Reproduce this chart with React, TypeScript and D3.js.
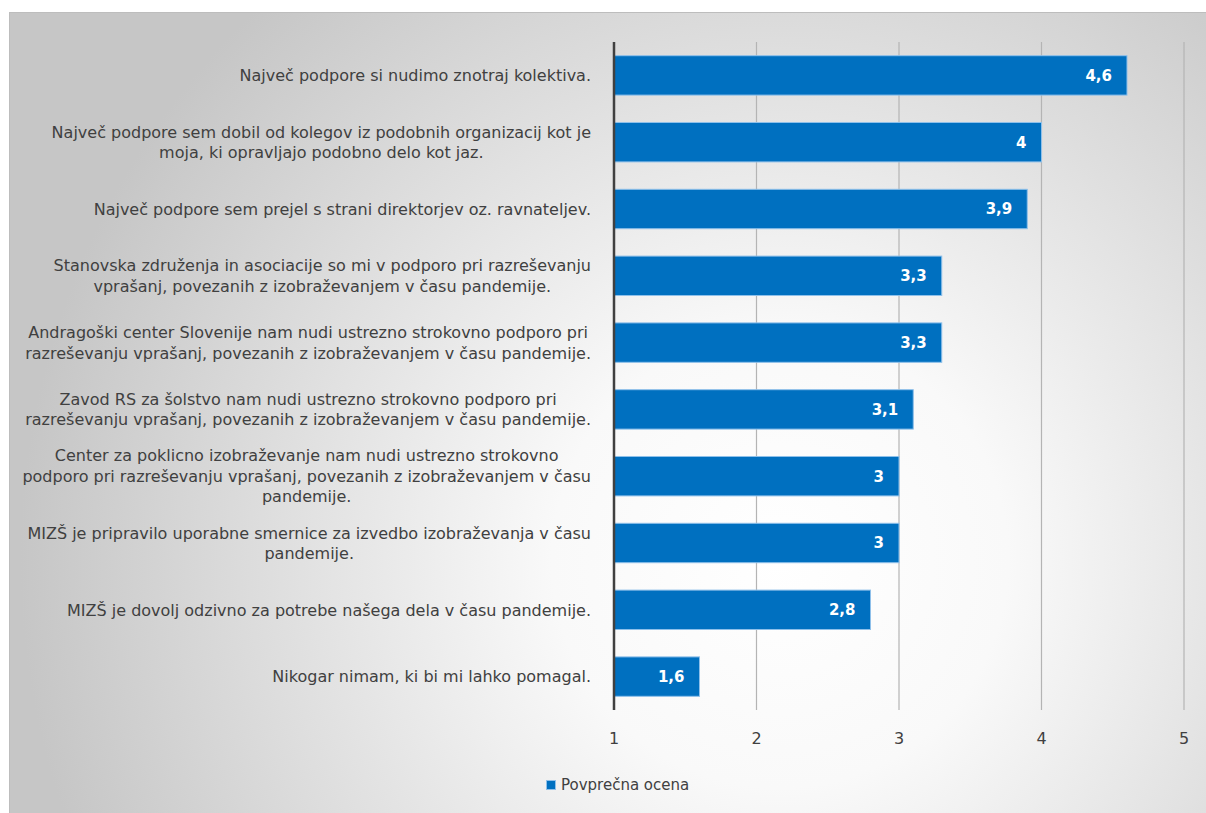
import React, { useEffect, useRef } from "react";
import * as d3 from "d3";

const categories: string[][] = [
  ["Največ podpore si nudimo znotraj kolektiva."],
  ["Največ podpore sem dobil od kolegov iz podobnih organizacij kot je", "moja, ki opravljajo podobno delo kot jaz."],
  ["Največ podpore sem prejel s strani direktorjev oz. ravnateljev."],
  ["Stanovska združenja in asociacije so mi v podporo pri razreševanju", "vprašanj, povezanih z izobraževanjem v času pandemije."],
  ["Andragoški center Slovenije nam nudi ustrezno strokovno podporo pri", "razreševanju vprašanj, povezanih z izobraževanjem v času pandemije."],
  ["Zavod RS za šolstvo nam nudi ustrezno strokovno podporo pri", "razreševanju vprašanj, povezanih z izobraževanjem v času pandemije."],
  ["Center za poklicno izobraževanje nam nudi ustrezno strokovno", "podporo pri razreševanju vprašanj, povezanih z izobraževanjem v času", "pandemije."],
  ["MIZŠ je pripravilo uporabne smernice za izvedbo izobraževanja v času", "pandemije."],
  ["MIZŠ je dovolj odzivno za potrebe našega dela v času pandemije."],
  ["Nikogar nimam, ki bi mi lahko pomagal."],
];
const values: number[] = [4.6, 4, 3.9, 3.3, 3.3, 3.1, 3, 3, 2.8, 1.6];
const xTicks: number[] = [1, 2, 3, 4, 5];
const seriesName = "Povprečna ocena";

const W = 1206;
const H = 813;
const FONT = "'DejaVu Sans', sans-serif";

export default function App() {
  const ref = useRef<SVGSVGElement>(null);

  useEffect(() => {
    const svg = d3.select(ref.current);
    svg.selectAll("*").remove();

    const defs = svg.append("defs");
    const grad = defs
      .append("radialGradient")
      .attr("id", "bg")
      .attr("gradientUnits", "userSpaceOnUse")
      .attr("cx", 780)
      .attr("cy", 560)
      .attr("r", 760);
    grad.append("stop").attr("offset", 0).attr("stop-color", "#ffffff");
    grad.append("stop").attr("offset", 0.3).attr("stop-color", "#f9f9f9");
    grad.append("stop").attr("offset", 1).attr("stop-color", "#c6c6c6");

    svg.append("rect").attr("x", 0).attr("y", 0).attr("width", W).attr("height", H).attr("fill", "#ffffff");
    svg
      .append("rect")
      .attr("x", 9.5)
      .attr("y", 12.5)
      .attr("width", W)
      .attr("height", H)
      .attr("fill", "url(#bg)")
      .attr("stroke", "#bdbdbd")
      .attr("stroke-width", 1);

    const x = d3.scaleLinear().domain([1, 5]).range([614, 1184]);
    const idx = categories.map((_, i) => String(i));
    const y = d3.scaleBand<string>().domain(idx).range([42, 710]).paddingInner(0.41).paddingOuter(0.205);

    // gridlines
    svg
      .append("g")
      .selectAll("line")
      .data(xTicks.slice(1))
      .join("line")
      .attr("x1", (d) => x(d))
      .attr("x2", (d) => x(d))
      .attr("y1", 42)
      .attr("y2", 710)
      .attr("stroke", "#b4b4b4")
      .attr("stroke-width", 1.2);

    // bars
    svg
      .append("g")
      .selectAll("rect")
      .data(values)
      .join("rect")
      .attr("x", x(1))
      .attr("y", (_, i) => y(String(i))!)
      .attr("width", (d) => x(d) - x(1))
      .attr("height", y.bandwidth())
      .attr("fill", "#0070c0")
      .attr("stroke", "#8fc0ea")
      .attr("stroke-width", 1);

    // value labels
    svg
      .append("g")
      .selectAll("text")
      .data(values)
      .join("text")
      .attr("x", (d) => x(d) - 15)
      .attr("y", (_, i) => y(String(i))! + y.bandwidth() / 2)
      .attr("dy", "0.36em")
      .attr("text-anchor", "end")
      .attr("fill", "#ffffff")
      .attr("font-family", FONT)
      .attr("font-weight", "bold")
      .attr("font-size", 15)
      .text((d) => String(d).replace(".", ","));

    // axis line
    svg
      .append("line")
      .attr("x1", x(1))
      .attr("x2", x(1))
      .attr("y1", 42)
      .attr("y2", 710)
      .attr("stroke", "#404040")
      .attr("stroke-width", 2.5);

    // x tick labels
    svg
      .append("g")
      .selectAll("text")
      .data(xTicks)
      .join("text")
      .attr("x", (d) => x(d))
      .attr("y", 738)
      .attr("dy", "0.36em")
      .attr("text-anchor", "middle")
      .attr("fill", "#404040")
      .attr("font-family", FONT)
      .attr("font-size", 16)
      .text((d) => String(d));

    // category labels
    const lineH = 20.5;
    const rightEdge = 591;
    const catG = svg.append("g");
    categories.forEach((lines, i) => {
      const cy = y(String(i))! + y.bandwidth() / 2;
      const g = catG.append("g");
      const texts = lines.map((ln, j) =>
        g
          .append("text")
          .attr("y", cy + (j - (lines.length - 1) / 2) * lineH)
          .attr("dy", "0.36em")
          .attr("text-anchor", "middle")
          .attr("fill", "#404040")
          .attr("font-family", FONT)
          .attr("font-size", 16)
          .text(ln)
      );
      const maxW = d3.max(texts, (t) => (t.node() as SVGTextElement).getComputedTextLength()) || 0;
      texts.forEach((t) => t.attr("x", rightEdge - maxW / 2));
    });

    // legend
    svg
      .append("rect")
      .attr("x", 546.5)
      .attr("y", 780.5)
      .attr("width", 9)
      .attr("height", 9)
      .attr("fill", "#0070c0")
      .attr("stroke", "#8fc0ea")
      .attr("stroke-width", 1);
    svg
      .append("text")
      .attr("x", 561)
      .attr("y", 785)
      .attr("dy", "0.36em")
      .attr("fill", "#404040")
      .attr("font-family", FONT)
      .attr("font-size", 15)
      .text(seriesName);
  }, []);

  return (
    <div style={{ position: "absolute", left: 0, top: 0, width: W, height: H, overflow: "hidden" }}>
      <svg ref={ref} width={W} height={H} style={{ display: "block" }} />
    </div>
  );
}
